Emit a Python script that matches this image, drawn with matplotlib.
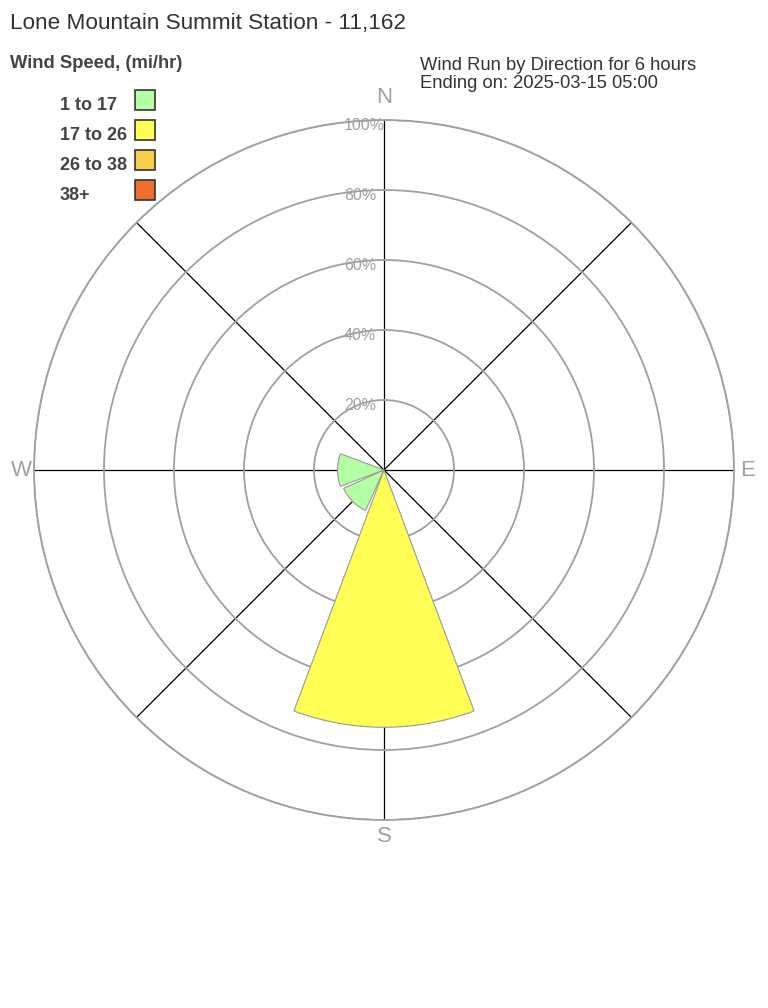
import numpy as np
import matplotlib
matplotlib.use("Agg")
import matplotlib.pyplot as plt
from matplotlib.transforms import offset_copy
from matplotlib.patches import Rectangle

plt.rcParams['font.family'] = ['Liberation Sans', 'DejaVu Sans']

# Data: percent of wind run per direction, stacked by speed bin
directions = ['N', 'NE', 'E', 'SE', 'S', 'SW', 'W', 'NW']
dir_angles = [0, 45, 90, 135, 180, 225, 270, 315]
speed_bins = ['1 to 17', '17 to 26', '26 to 38', '38+']
pct_1_17 = [0, 0, 0, 0, 0, 12.7, 13.3, 0]
pct_17_26 = [0, 0, 0, 0, 73.5, 0, 0, 0]
pct_26_38 = [0, 0, 0, 0, 0, 0, 0, 0]
pct_38_up = [0, 0, 0, 0, 0, 0, 0, 0]
ring_values = [20, 40, 60, 80, 100]

bin_colors = ['#b4ffa4', '#ffff55', '#f8ce48', '#ee6e2e']
series = [pct_1_17, pct_17_26, pct_26_38, pct_38_up]

fig = plt.figure(figsize=(7.68, 10.08), dpi=100)
W, H = 768, 1008
cx, cy, R = 384, 470, 350
ax = fig.add_axes([(cx - R) / W, (H - cy - R) / H, 2 * R / W, 2 * R / H], projection='polar')
ax.set_theta_zero_location('N')
ax.set_theta_direction(-1)
ax.set_ylim(0, 100)

theta = np.deg2rad(dir_angles)
bottom = np.zeros(len(directions))
for vals, col in zip(series, bin_colors):
    vals = np.array(vals, dtype=float)
    m = vals > 0
    if m.any():
        ax.bar(theta[m], vals[m], width=np.deg2rad(41), bottom=bottom[m],
               color=col, edgecolor='#999999', linewidth=0.8, zorder=3)
    bottom += vals

ax.set_xticks(theta)
ax.set_xticklabels([])
ax.set_yticks(ring_values)
ax.set_yticklabels([])
ax.xaxis.grid(True, color='black', linewidth=0.9)
ax.yaxis.grid(True, color='#a0a0a0', linewidth=1.3)
ax.spines['polar'].set_color('#a0a0a0')
ax.spines['polar'].set_linewidth(1.3)
ax.tick_params(length=0)

# ring labels: left edge ~40 px left of centre, baseline ~10 px below ring
lab_tr = offset_copy(ax.transData, fig=fig, x=-40, y=-10, units='dots')
for r in ring_values:
    ax.text(0, r, f"{r}%", transform=lab_tr, ha='left', va='baseline',
            fontsize=11.5, color='#a0a0a0', zorder=4)

for name, ang, rr in [('N', 0, 106.4), ('E', 90, 104), ('S', 180, 104.7), ('W', 270, 103.6)]:
    ax.text(np.deg2rad(ang), rr, name, ha='center', va='center', fontsize=16,
            color='#a0a0a0', clip_on=False)

# Titles and legend
fig.text(10 / W, 1 - 28.5 / H, 'Lone Mountain Summit Station - 11,162', fontsize=16.2,
         color='#333333', ha='left', va='baseline')
fig.text(10 / W, 1 - 68.5 / H, 'Wind Speed, (mi/hr)', fontsize=13.2, fontweight='bold',
         color='#444444', ha='left', va='baseline')
fig.text(420 / W, 1 - 69.5 / H, 'Wind Run by Direction for 6 hours', fontsize=13.2,
         color='#333333', ha='left', va='baseline')
fig.text(420 / W, 1 - 88 / H, 'Ending on: 2025-03-15 05:00', fontsize=13.2,
         color='#333333', ha='left', va='baseline')

for i, (lab, col) in enumerate(zip(speed_bins, bin_colors)):
    yb = 110 + 30 * i
    fig.text(60 / W, 1 - yb / H, lab, fontsize=13, fontweight='bold',
             color='#444444', ha='left', va='baseline')
    fig.patches.append(Rectangle((135 / W, 1 - yb / H), 20 / W, 20 / H,
                                 transform=fig.transFigure, facecolor=col,
                                 edgecolor='#333333', linewidth=1.2))

fig.savefig('out.png', dpi=100, facecolor='white')
